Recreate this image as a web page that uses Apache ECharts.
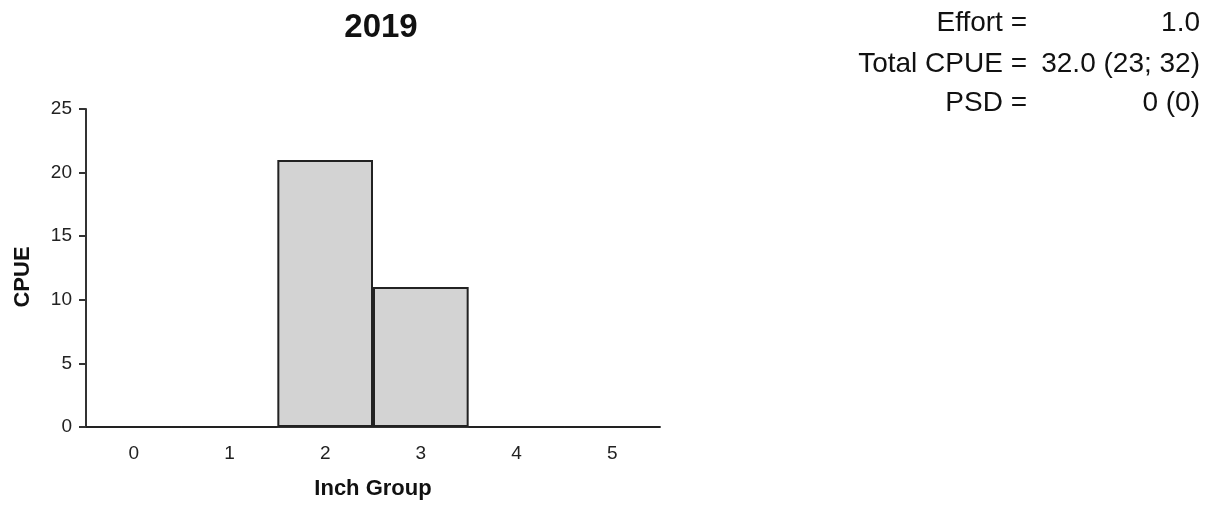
<!DOCTYPE html>
<html><head><meta charset="utf-8">
<script src="https://cdn.jsdelivr.net/npm/echarts@6/dist/echarts.min.js"></script>
<style>html,body{margin:0;padding:0;background:#fff}#c{width:1213px;height:505px}</style>
</head><body><div id="c"></div>
<script>
const chartTitle = '2019';
const categories = ['0','1','2','3','4','5'];
const cpueValues = [0, 0, 21, 11, 0, 0];
const yTicks = [0, 5, 10, 15, 20, 25];
const statLabels = ['Effort =', 'Total CPUE =', 'PSD ='];
const statValues = ['1.0', '32.0 (23; 32)', '0 (0)'];

const chart = echarts.init(document.getElementById('c'));
const font = '"Liberation Sans", Arial, sans-serif';
const graphics = [];
const lineY = [23.5, 64, 103];
statLabels.forEach((t, i) => {
  graphics.push({type:'text', x: 1027, y: lineY[i],
    style:{text:t, font:'28px ' + font, fill:'#111', textAlign:'right', textVerticalAlign:'middle'}});
  graphics.push({type:'text', x: 1200, y: lineY[i],
    style:{text:statValues[i], font:'28px ' + font, fill:'#111', textAlign:'right', textVerticalAlign:'middle'}});
});
chart.setOption({
  animation:false,
  title:{text:chartTitle, left:376, top:6, textAlign:'center',
    textStyle:{fontFamily:font, fontSize:33, fontWeight:'bold', color:'#111'}},
  grid:{left:86, right:553, top:109, bottom:77, containLabel:false},
  xAxis:{type:'category', data:categories, boundaryGap:true,
    name:'Inch Group', nameLocation:'middle', nameGap:51,
    nameTextStyle:{fontFamily:font, fontSize:22, fontWeight:'bold', color:'#111'},
    axisLine:{lineStyle:{color:'#333', width:2}},
    axisTick:{alignWithLabel:true, length:8, lineStyle:{color:'#333', width:2}},
    axisLabel:{fontFamily:font, fontSize:19, color:'#222', margin:17}},
  yAxis:{type:'value', min:yTicks[0], max:yTicks[yTicks.length-1], interval:5,
    name:'CPUE', nameLocation:'middle', nameGap:52, nameRotate:90,
    nameTextStyle:{fontFamily:font, fontSize:22, fontWeight:'bold', color:'#111', padding:[0,18,0,0]},
    axisLine:{show:true, lineStyle:{color:'#333', width:2}},
    axisTick:{show:true, length:7, lineStyle:{color:'#333', width:2}},
    splitLine:{show:false},
    axisLabel:{fontFamily:font, fontSize:19, color:'#222', margin:14}},
  series:[{type:'bar', data:cpueValues, barCategoryGap:'0%',
    itemStyle:{color:'#d3d3d3', borderColor:'#222', borderWidth:2}}],
  graphic: graphics
});
</script></body></html>
